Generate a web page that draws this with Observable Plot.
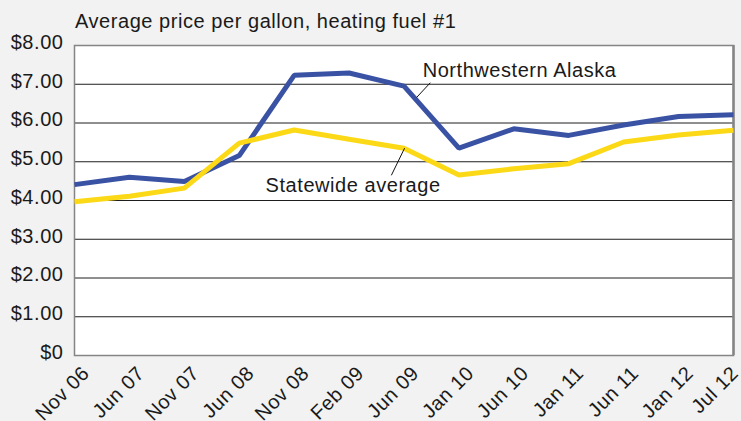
<!DOCTYPE html>
<html><head><meta charset="utf-8">
<script src="https://cdn.jsdelivr.net/npm/d3@7"></script>
<script src="https://cdn.jsdelivr.net/npm/@observablehq/plot@0.6"></script>
<style>
body{margin:0;background:#f1f2f1;font-family:"Liberation Sans",Arial,sans-serif;width:741px;height:421px;overflow:hidden;}
#title{height:36px;box-sizing:border-box;padding:6px 0 0 75px;line-height:30px;font-size:20px;letter-spacing:0.55px;color:#1a1a1a;white-space:nowrap;}
</style></head><body>
<div id="title">Average price per gallon, heating fuel #1</div>
<div id="chart"></div>
<script>
const periods = ["Nov 06","Jun 07","Nov 07","Jun 08","Nov 08","Feb 09","Jun 09","Jan 10","Jun 10","Jan 11","Jun 11","Jan 12","Jul 12"];
const northwestern = [4.41,4.60,4.49,5.16,7.23,7.29,6.95,5.35,5.85,5.68,5.95,6.17,6.21];
const statewide = [3.97,4.11,4.32,5.48,5.82,5.58,5.35,4.66,4.82,4.95,5.51,5.69,5.81];
const yTicks = [0,1,2,3,4,5,6,7,8];
const gridValues = [1,2,3,4,5,6,7];
const labelNames = ["Northwestern Alaska","Statewide average"];
const labelX = [6.34,3.48];
const labelY = [7.20,4.23];
const leaderX1 = [6.48,6.01], leaderY1 = [7.04,5.35];
const leaderX2 = [6.23,5.77], leaderY2 = [6.66,4.65];

const rows = periods.map((p,i)=>({i, period:p, nw:northwestern[i], sw:statewide[i]}));
const labels = labelNames.map((t,k)=>({text:t, x:labelX[k], y:labelY[k]}));
const leaders = labelNames.map((t,k)=>({x1:leaderX1[k], y1:leaderY1[k], x2:leaderX2[k], y2:leaderY2[k]}));
const idx = d3.range(periods.length);

const chart = Plot.plot({
  width: 741, height: 385,
  marginLeft: 74, marginRight: 8, marginTop: 9, marginBottom: 66,
  style: {fontFamily: "'Liberation Sans', Arial, sans-serif", fontSize: "20px", letterSpacing: "0.55px", background: "transparent", color: "#1a1a1a", overflow: "visible"},
  x: {type: "linear", domain: [0, periods.length - 1], axis: null},
  y: {domain: [0, 8], axis: null},
  marks: [
    Plot.frame({fill: "white", stroke: null}),
    Plot.ruleY(gridValues, {stroke: "#1e1e1e", strokeWidth: 1}),
    Plot.frame({stroke: "#858585", strokeWidth: 1.5}),
    Plot.ruleX([periods.length - 1], {stroke: "#858585", strokeWidth: 2.5}),
    Plot.line(rows, {x: "i", y: "nw", stroke: "#3a52a4", strokeWidth: 5, strokeLinejoin: "miter", strokeLinecap: "butt"}),
    Plot.line(rows, {x: "i", y: "sw", stroke: "#fcd916", strokeWidth: 5, strokeLinejoin: "miter", strokeLinecap: "butt"}),
    Plot.link(leaders, {x1: "x1", y1: "y1", x2: "x2", y2: "y2", stroke: "#111", strokeWidth: 1}),
    Plot.text(labels, {x: "x", y: "y", text: "text", textAnchor: "start", lineAnchor: "bottom", fontSize: 20, fill: "#1a1a1a"}),
    Plot.axisY(yTicks, {tickSize: 0, tickPadding: 11, fontSize: 20, dy: -3, tickFormat: d => d === 0 ? "$0" : "$" + d.toFixed(2), label: null}),
    Plot.axisX(idx.slice(0, -1), {tickSize: 0, tickPadding: 9, dx: 6, tickRotate: -45, textAnchor: "end", lineAnchor: "top", fontSize: 20, tickFormat: i => periods[i], label: null}),
    Plot.axisX(idx.slice(-1), {tickSize: 0, tickPadding: 9, dx: -4, tickRotate: -45, textAnchor: "end", lineAnchor: "top", fontSize: 20, tickFormat: i => periods[i], label: null})
  ]
});
document.getElementById("chart").append(chart);
</script>
</body></html>
